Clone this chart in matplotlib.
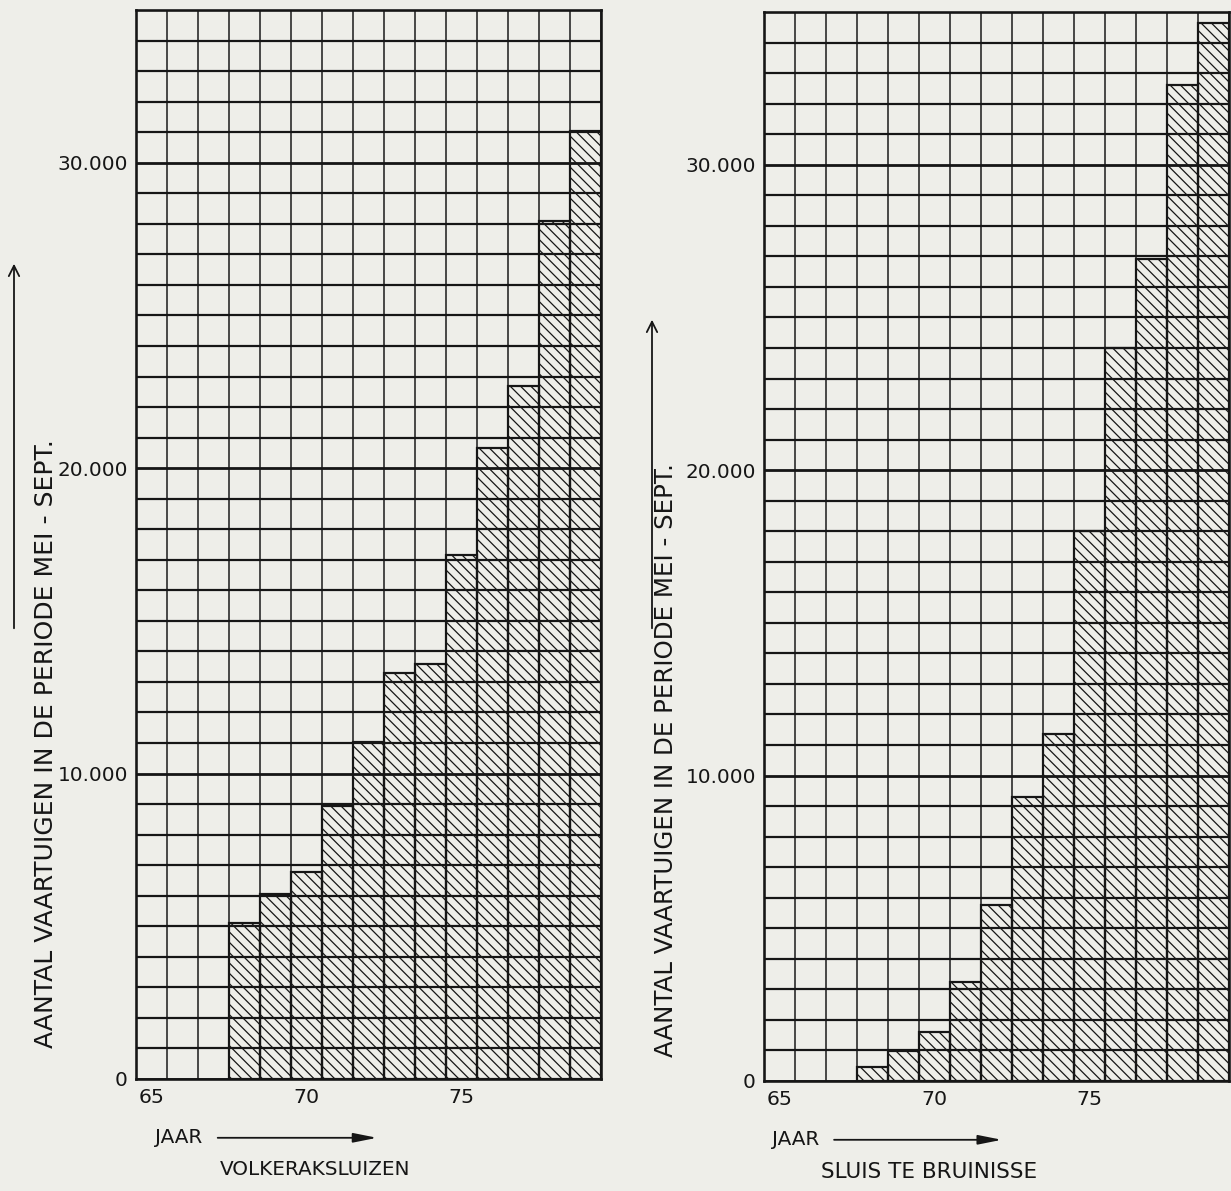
import numpy as np
import matplotlib
matplotlib.use("Agg")
import matplotlib.pyplot as plt
from matplotlib.ticker import FuncFormatter

# the hatch tile is one inch wide, so a low dpi gives the denser hatch of the scan
DPI = 62
W_PX, H_PX = 1231, 1191


def px(v):
    """pixels -> points at the figure dpi"""
    return v * 72.0 / DPI


# data (aantal vaartuigen mei - sept.)
years = list(range(65, 80))
data_years = list(range(68, 80))
volkerak_counts = [5100, 6050, 6780, 8950, 11050, 13300, 13600, 17150, 20650, 22700, 28100, 31050]
bruinisse_counts = [450, 970, 1600, 3250, 5750, 9300, 11350, 18000, 24000, 26900, 32600, 34650]

x_ticks = [65, 70, 75]
y_ticks = [0, 10000, 20000, 30000]
Y_MAX = 35000
Y_STEP = 1000

ylabel = "AANTAL VAARTUIGEN IN DE PERIODE MEI - SEPT."
titles = ["VOLKERAKSLUIZEN", "SLUIS TE BRUINISSE"]

PAPER = "#eeeee9"
INK = "#161616"

plt.rcParams["font.family"] = ["DejaVu Sans"]
plt.rcParams["hatch.linewidth"] = px(1.25)
plt.rcParams["hatch.color"] = INK

fig = plt.figure(figsize=(W_PX / DPI, H_PX / DPI), dpi=DPI, facecolor=PAPER)


def fx(x):
    return x / W_PX


def fy(y):
    return 1 - y / H_PX


def dutch(v, pos=None):
    return f"{int(v):,}".replace(",", ".")


def draw_panel(left, top, bottom, counts, title, title_x, title_size,
               lab_x, lab_bottom, lab_size, arr_x, arr_top, arr_bottom,
               jaar_x, jaar_arrow):
    width = 465
    ax = fig.add_axes([fx(left), fy(bottom), width / W_PX, (bottom - top) / H_PX])
    ax.set_facecolor(PAPER)

    ax.bar(data_years, counts, width=1.0, facecolor="none", edgecolor=INK,
           hatch="\\\\", linewidth=px(2.2), zorder=3)

    ax.set_xlim(years[0] - 0.5, years[-1] + 0.5)
    ax.set_ylim(0, Y_MAX)

    ax.set_xticks(x_ticks)
    ax.set_yticks(y_ticks)
    ax.set_xticks(np.arange(years[0] - 0.5, years[-1] + 1.0, 1.0), minor=True)
    ax.set_yticks(np.arange(0, Y_MAX + 1, Y_STEP), minor=True)
    ax.yaxis.set_major_formatter(FuncFormatter(dutch))

    ax.grid(which="minor", axis="x", color=INK, linewidth=px(1.5), zorder=1)
    ax.grid(which="minor", axis="y", color=INK, linewidth=px(2.2), zorder=1)
    ax.grid(which="major", axis="y", color=INK, linewidth=px(2.8), zorder=1)
    ax.grid(which="major", axis="x", visible=False)
    ax.set_axisbelow(True)

    ax.tick_params(which="both", length=0)
    ax.tick_params(axis="y", pad=px(8), labelsize=px(20), labelcolor=INK)
    ax.tick_params(axis="x", pad=px(9), labelsize=px(20.5), labelcolor=INK)
    for s in ax.spines.values():
        s.set_linewidth(px(2.6))
        s.set_color(INK)

    # rotated y label with its arrow
    fig.text(fx(lab_x), fy(lab_bottom), ylabel, rotation=90, rotation_mode="anchor",
             ha="left", va="center", fontsize=px(lab_size), color=INK)
    ax.annotate("", xy=(fx(arr_x), fy(arr_top)), xytext=(fx(arr_x), fy(arr_bottom)),
                xycoords="figure fraction", textcoords="figure fraction",
                arrowprops=dict(arrowstyle="->", color=INK, lw=px(1.8),
                                mutation_scale=px(26)))

    # "JAAR ---->" under the axis
    ax.text(jaar_x, -0.055, "JAAR", transform=ax.transAxes,
            ha="left", va="center", fontsize=px(20), color=INK)
    ax.annotate("", xy=(jaar_arrow[1], -0.055), xytext=(jaar_arrow[0], -0.055),
                xycoords="axes fraction", textcoords="axes fraction",
                arrowprops=dict(arrowstyle="-|>,head_length=0.9,head_width=0.18",
                                color=INK, lw=px(1.8), mutation_scale=px(22)))

    ax.text(title_x, -0.085, title, transform=ax.transAxes,
            ha="center", va="center", fontsize=px(title_size), color=INK)
    return ax


draw_panel(136, 10, 1079, volkerak_counts, titles[0], title_x=0.385, title_size=20,
           lab_x=46, lab_bottom=1048, lab_size=25, arr_x=14, arr_top=262, arr_bottom=630,
           jaar_x=0.041, jaar_arrow=(0.172, 0.522))
draw_panel(764, 12, 1081, bruinisse_counts, titles[1], title_x=0.355, title_size=21.5,
           lab_x=666, lab_bottom=1057, lab_size=24.5, arr_x=652, arr_top=318, arr_bottom=630,
           jaar_x=0.017, jaar_arrow=(0.147, 0.515))

fig.savefig("out.png", dpi=DPI, facecolor=PAPER)
